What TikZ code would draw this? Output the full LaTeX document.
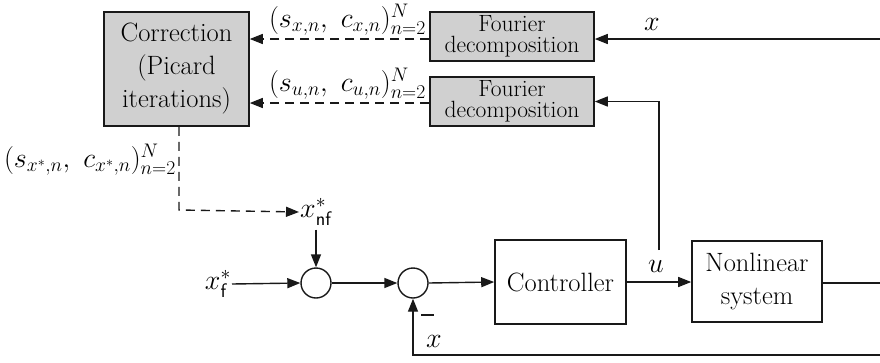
\documentclass[tikz,border=0pt]{standalone}
\usepackage{fix-cm}
\usepackage{amsmath}
\usetikzlibrary{arrows.meta,calc}
\definecolor{boxgray}{HTML}{D0D0D0}
\tikzset{
  tri/.style={-{Triangle[length=13pt,width=10pt]}},
  wire/.style={line width=1.4pt, draw=black!90},
  block/.style={draw=black!90, line width=1.6pt, align=center, inner sep=0pt, font=\fontsize{26.5}{33}\selectfont},
  grayblock/.style={block, fill=boxgray},
  fourier/.style={grayblock, font=\fontsize{23.5}{21}\selectfont, minimum width=164pt, minimum height=49pt},
  sumnode/.style={circle, draw=black!90, line width=1.4pt, minimum size=30pt, inner sep=0pt},
  lab/.style={inner sep=1pt, font=\fontsize{28}{30}\selectfont},
  dsh/.style={wire, dash pattern=on 9pt off 6pt}
}
\begin{document}
\begin{tikzpicture}[x=1pt,y=-1pt]
\useasboundingbox (0,0) rectangle (880,362);
% blocks
\node[grayblock, minimum width=145pt, minimum height=114pt] (corr) at (176.5,69) {Correction\\(Picard\\iterations)};
\node[fourier] (four1) at (512,36.5) {Fourier\\decomposition};
\node[fourier] (four2) at (512,101.5) {Fourier\\decomposition};
\node[block, minimum width=131pt, minimum height=84pt] (ctrl) at (560.5,282) {Controller};
\node[block, minimum width=130pt, minimum height=81pt] (nls) at (757,281.5) {Nonlinear\\system};
\node[sumnode] (sum1) at (316,283) {};
\node[sumnode] (sum2) at (413,283) {};
% labels / signals
\node[lab, anchor=west] (xnf) at (299,212) {$x^*_{\mathsf{nf}}$};
\node[lab, anchor=east] (xf) at (232,284) {$x^*_{\mathsf{f}}$};
\coordinate (xin) at (880,39);
\coordinate (yout) at (880,283);
\coordinate (fb) at (880,355);
\coordinate (ub) at (659,250);
\coordinate (cbend) at (179,210);
% dashed coefficient arrows
\draw[dsh, tri] (four1.west |- 0,39) -- (corr.east |- 0,39);
\node[lab, anchor=south east] (lx) at (427,37) {$(s_{x,n},\ c_{x,n})_{n=2}^{N}$};
\draw[dsh, tri] (four2.west |- 0,103) -- (corr.east |- 0,103);
\node[lab, anchor=south east] (lu) at (427,101) {$(s_{u,n},\ c_{u,n})_{n=2}^{N}$};
\draw[dsh, tri] (corr.south -| cbend) -- (cbend) -- (xnf.west);
\node[lab, anchor=east] (xslab) at (177,160) {$(s_{x^*,n},\ c_{x^*,n})_{n=2}^{N}$};
% x measurement to Fourier
\draw[wire, tri] (xin) -- (four1.east |- xin);
\node[lab] (xtop) at (652,24) {$x$};
% loop
\draw[wire, tri] (xnf.south -| sum1.north) ++(0,3) -- (sum1.north);
\draw[wire, tri] (xf.east) -- (sum1.west);
\draw[wire, tri] (sum1.east) -- (sum2.west);
\draw[wire, tri] (sum2.east) -- (ctrl.west);
\draw[wire, tri] (ctrl.east) -- (nls.west |- ctrl.east);
\node[lab] (ulab) at (656,266) {$u$};
\draw[wire, tri] (ub) |- (four2.east);
\draw[wire] (nls.east |- yout) -- (yout);
\draw[wire, tri] (fb) -| (sum2.south);
\draw[wire] (421,315) -- (434,315);
\node[lab] (xfb) at (434,341) {$x$};
\end{tikzpicture}
\end{document}
